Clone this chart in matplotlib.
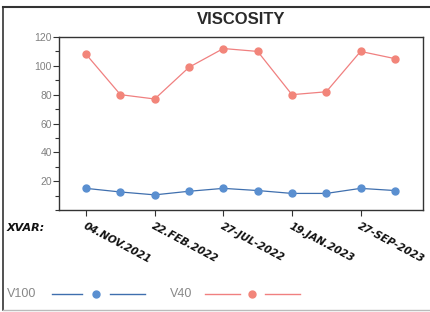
import matplotlib
matplotlib.use("Agg")
import matplotlib.pyplot as plt
from matplotlib.lines import Line2D
from matplotlib.ticker import MultipleLocator

tick_labels = ["04.NOV.2021", "22.FEB.2022", "27-JUL-2022", "19.JAN.2023", "27-SEP-2023"]
v40 = [108, 80, 77, 99, 112, 110, 80, 82, 110, 105]
v100 = [15, 12.5, 10.5, 13, 15, 13.5, 11.5, 11.5, 15, 13.5]

c100_line = "#3f6fae"
c100_mk = "#5a8fd0"
c40_line = "#f08080"
c40_mk = "#f2857a"

W, H = 431, 312
fig = plt.figure(figsize=(W / 100, H / 100), dpi=100)
fig.patch.set_facecolor("white")

def fx(px):
    return px / W

def fy(py):
    return 1 - py / H

ax = fig.add_axes([fx(59), fy(210), fx(423) - fx(59), fy(37) - fy(210)])
x = list(range(len(v40)))
ax.plot(x, v40, color=c40_line, lw=0.9, marker="o", ms=5, mfc=c40_mk, mec=c40_mk, zorder=3)
ax.plot(x, v100, color=c100_line, lw=0.9, marker="o", ms=5, mfc=c100_mk, mec=c100_mk, zorder=3)

ax.set_xlim(-0.79, 9.82)
ax.set_ylim(0, 120)
ax.yaxis.set_minor_locator(MultipleLocator(10))
ax.set_yticks([20, 40, 60, 80, 100, 120])
ax.set_yticklabels(["20", "40", "60", "80", "100", "120"])
ax.tick_params(axis="y", which="major", length=4, width=0.8, colors="#333333", labelcolor="#808080", labelsize=7.5, pad=1)
ax.tick_params(axis="y", which="minor", length=3, width=0.8, colors="#333333")
tick_pos = [0, 2, 4, 6, 8]
ax.set_xticks(tick_pos)
ax.set_xticklabels(tick_labels, rotation=-28, ha="left", va="top", rotation_mode="anchor",
                   fontsize=7.5, fontweight="bold", fontstyle="italic", family="DejaVu Sans", color="#111111")
ax.tick_params(axis="x", length=4, width=0.8, colors="#333333", labelcolor="#111111", pad=4)
for lab in ax.get_yticklabels():
    lab.set_family("Liberation Sans")
for s in ax.spines.values():
    s.set_linewidth(1.0)
    s.set_color("#333333")

fig.text(fx(241), fy(20), "VISCOSITY", ha="center", va="center", fontsize=12,
         fontweight="bold", family="Liberation Sans", color="#2a2a2a")
fig.text(fx(7), fy(228), "XVAR:", ha="left", va="center", fontsize=8,
         fontweight="bold", fontstyle="italic", family="DejaVu Sans", color="#111111")

# outer frame
fig.add_artist(Line2D([fx(3), fx(3)], [fy(7), fy(310)], color="#333333", lw=1.2, transform=fig.transFigure))
fig.add_artist(Line2D([fx(3), fx(431)], [fy(7), fy(7)], color="#333333", lw=1.5, transform=fig.transFigure))
fig.add_artist(Line2D([fx(3), fx(431)], [fy(310), fy(310)], color="#bbbbbb", lw=1.0, transform=fig.transFigure))

# legend
ly = fy(294)
fig.text(fx(7), ly, "V100", ha="left", va="center", fontsize=9, family="Liberation Sans", color="#888888")
fig.add_artist(Line2D([fx(52), fx(82)], [ly, ly], color=c100_line, lw=1.0, transform=fig.transFigure))
fig.add_artist(Line2D([fx(96)], [ly], color=c100_mk, marker="o", ms=5, lw=0, transform=fig.transFigure))
fig.add_artist(Line2D([fx(110), fx(145)], [ly, ly], color=c100_line, lw=1.0, transform=fig.transFigure))
fig.text(fx(170), ly, "V40", ha="left", va="center", fontsize=9, family="Liberation Sans", color="#888888")
fig.add_artist(Line2D([fx(205), fx(240)], [ly, ly], color=c40_line, lw=1.0, transform=fig.transFigure))
fig.add_artist(Line2D([fx(252)], [ly], color=c40_mk, marker="o", ms=5, lw=0, transform=fig.transFigure))
fig.add_artist(Line2D([fx(265), fx(300)], [ly, ly], color=c40_line, lw=1.0, transform=fig.transFigure))

fig.savefig("out.png", dpi=100)
